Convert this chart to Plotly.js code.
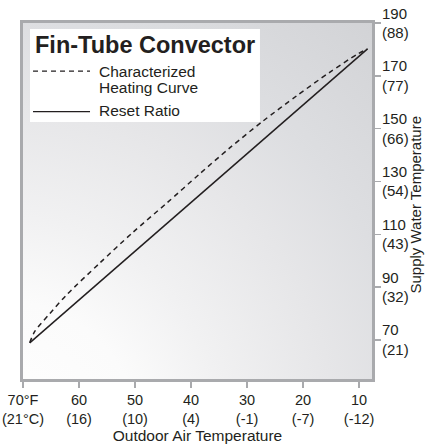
<!DOCTYPE html>
<html>
<head>
<meta charset="utf-8">
<script src="https://cdn.plot.ly/plotly-3.0.1.min.js"></script>
<style>html,body{margin:0;padding:0;background:#fff;}#chart{width:427px;height:444px;}</style>
</head>
<body>
<div id="chart"></div>
<script>
// ---- data ----
var curveOutdoorF = [68.8, 67.9, 65.2, 62.2, 56.3, 50.4, 44.3, 38.5, 33.1, 27.2, 21.1, 15.2, 10.4, 8.5];
var curveSupplyF  = [68.9, 73.2, 80.0, 87.1, 99.1, 110.7, 121.9, 132.8, 142.7, 152.8, 162.5, 171.4, 178.1, 180.2];
var resetOutdoorF = [68.8, 8.5];
var resetSupplyF  = [68.9, 180.2];

var xTickVals = [70, 60, 50, 40, 30, 20, 10];
var xTickText = ['70°F<br>(21°C)', '60<br>(16)', '50<br>(10)', '40<br>(4)', '30<br>(-1)', '20<br>(-7)', '10<br>(-12)'];
var yTickVals = [70, 90, 110, 130, 150, 170, 190];
var yTickText = ['70<br>(21)', '90<br>(32)', '110<br>(43)', '130<br>(54)', '150<br>(66)', '170<br>(77)', '190<br>(88)'];

var chartTitle = 'Fin-Tube Convector';
var seriesNames = ['Characterized', 'Heating Curve', 'Reset Ratio'];
var xTitle = 'Outdoor Air Temperature';
var yTitle = 'Supply Water Temperature';

// ---- styling ----
var FONT = 'Liberation Sans, Arial, Helvetica, sans-serif';
var INK = '#231f20';
var AXIS = '#a9aaad';

var bgSvg = "<svg xmlns='http://www.w3.org/2000/svg' width='349' height='356' viewBox='0 0 349 356' preserveAspectRatio='none'>" +
  "<defs><radialGradient id='g' gradientUnits='userSpaceOnUse' cx='-23' cy='417' r='560'>" +
  "<stop offset='0' stop-color='#ffffff'/><stop offset='0.25' stop-color='#fbfbfb'/>" +
  "<stop offset='0.4' stop-color='#f1f1f2'/><stop offset='0.6' stop-color='#e6e6e8'/>" +
  "<stop offset='0.75' stop-color='#dddee1'/><stop offset='1' stop-color='#d2d3d6'/></radialGradient></defs>" +
  "<rect width='349' height='356' fill='url(#g)'/></svg>";
var bgUri = 'data:image/svg+xml;charset=utf-8,' + encodeURIComponent(bgSvg);

var traces = [
  {x: curveOutdoorF, y: curveSupplyF, type: 'scatter', mode: 'lines',
   name: seriesNames[0] + ' ' + seriesNames[1],
   line: {color: INK, width: 1.5, dash: '5px,4px', shape: 'spline', smoothing: 0.8}, hoverinfo: 'x+y'},
  {x: resetOutdoorF, y: resetSupplyF, type: 'scatter', mode: 'lines',
   name: seriesNames[2],
   line: {color: INK, width: 1.5}, hoverinfo: 'x+y'}
];

var layout = {
  width: 427, height: 444,
  margin: {l: 23, r: 55, t: 23, b: 65, pad: 0},
  paper_bgcolor: '#ffffff', plot_bgcolor: '#ffffff',
  showlegend: false,
  font: {family: FONT, color: INK, size: 15},
  xaxis: {
    range: [70, 7.7], tickmode: 'array', tickvals: xTickVals, ticktext: xTickText,
    showgrid: false, zeroline: false,
    showline: true, linecolor: AXIS, linewidth: 3, mirror: true,
    ticks: 'outside', ticklen: 6, tickwidth: 1.5, tickcolor: AXIS,
    tickfont: {family: FONT, size: 14.5, color: INK},
    title: {text: xTitle, font: {family: FONT, size: 15.5, color: INK}, standoff: 2},
    automargin: false
  },
  yaxis: {
    range: [55.2, 190], side: 'right', tickmode: 'array', tickvals: yTickVals, ticktext: yTickText,
    showgrid: false, zeroline: false,
    showline: true, linecolor: AXIS, linewidth: 3, mirror: true,
    ticks: 'outside', ticklen: 6, tickwidth: 1.5, tickcolor: AXIS,
    ticklabelstandoff: -2,
    tickfont: {family: FONT, size: 15, color: INK},
    automargin: false
  },
  images: [{source: bgUri, xref: 'paper', yref: 'paper', x: 0, y: 1, sizex: 1, sizey: 1,
            xanchor: 'left', yanchor: 'top', sizing: 'stretch', layer: 'below'}],
  shapes: [
    {type: 'rect', xref: 'paper', yref: 'paper', x0: 0.0201, x1: 0.679, y0: 0.722, y1: 0.983,
     fillcolor: '#ffffff', line: {width: 0}, layer: 'above'},
    {type: 'line', xref: 'paper', yref: 'paper', x0: 0.0287, x1: 0.192, y0: 0.865, y1: 0.865,
     line: {color: INK, width: 1.3, dash: '5px,4px'}, layer: 'above'},
    {type: 'line', xref: 'paper', yref: 'paper', x0: 0.0287, x1: 0.192, y0: 0.751, y1: 0.751,
     line: {color: INK, width: 1.3}, layer: 'above'}
  ],
  annotations: [
    {xref: 'paper', yref: 'paper', x: 0.0278, y: 0.938, xanchor: 'left', yanchor: 'middle',
     text: '<b>' + chartTitle + '</b>', showarrow: false, font: {family: FONT, size: 23.5, color: INK}},
    {xref: 'paper', yref: 'paper', x: 0.212, y: 0.865, xanchor: 'left', yanchor: 'middle',
     text: seriesNames[0], showarrow: false, font: {family: FONT, size: 15.5, color: INK}},
    {xref: 'paper', yref: 'paper', x: 0.212, y: 0.820, xanchor: 'left', yanchor: 'middle',
     text: seriesNames[1], showarrow: false, font: {family: FONT, size: 15.5, color: INK}},
    {xref: 'paper', yref: 'paper', x: 0.212, y: 0.753, xanchor: 'left', yanchor: 'middle',
     text: seriesNames[2], showarrow: false, font: {family: FONT, size: 15.5, color: INK}},
    {xref: 'paper', yref: 'paper', x: 1.126, y: 0.49, xanchor: 'center', yanchor: 'middle',
     textangle: -90, text: yTitle, showarrow: false, font: {family: FONT, size: 15, color: INK}}
  ]
};

Plotly.newPlot('chart', traces, layout, {displayModeBar: false, staticPlot: true});
</script>
</body>
</html>
